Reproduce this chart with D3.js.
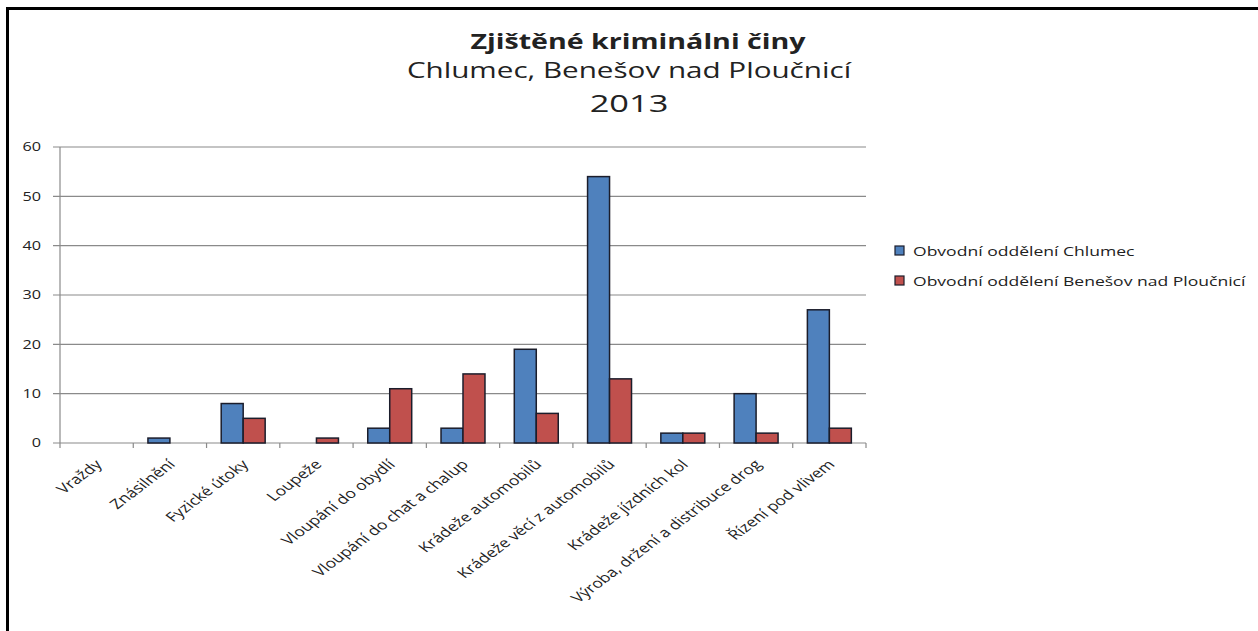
<!DOCTYPE html>
<html>
<head>
<meta charset="utf-8">
<script src="https://cdn.jsdelivr.net/npm/d3@7"></script>
<style>
  body { margin: 0; background: #fff; }
  text { font-family: "Open Sans", sans-serif; fill: #222; }
</style>
</head>
<body>
<svg id="chart" width="1258" height="631"></svg>
<script>
// data
var categories = ["Vraždy", "Znásilnění", "Fyzické útoky", "Loupeže", "Vloupání do obydlí",
  "Vloupání do chat a chalup", "Krádeže automobilů", "Krádeže věcí z automobilů",
  "Krádeže jízdních kol", "Výroba, držení a distribuce drog", "Řízení pod vlivem"];
var chlumec = [0, 1, 8, 0, 3, 3, 19, 54, 2, 10, 27];
var benesov = [0, 0, 5, 1, 11, 14, 6, 13, 2, 2, 3];
var seriesNames = ["Obvodní oddělení Chlumec", "Obvodní oddělení Benešov nad Ploučnicí"];
var seriesColors = ["#4f81bd", "#c0504d"];
var yTicks = [0, 10, 20, 30, 40, 50, 60];

var sx = 1.3; // text in the source is stretched sideways

var svg = d3.select("#chart");

// frame
svg.append("rect")
  .attr("x", 7.5)
  .attr("y", 8.5)
  .attr("width", 1300)
  .attr("height", 700)
  .attr("fill", "none")
  .attr("stroke", "#000")
  .attr("stroke-width", 3);

var x = d3.scaleBand().domain(categories).range([60, 866]);
var xs = d3.scaleBand().domain([0, 1]).range([0, x.bandwidth()]).paddingOuter(0.667);
var y = d3.scaleLinear().domain([0, 60]).range([443, 147]);

// gridlines
svg.append("g").selectAll("line")
  .data(yTicks)
  .join("line")
  .attr("x1", 53)
  .attr("x2", 866)
  .attr("y1", d => y(d))
  .attr("y2", d => y(d))
  .attr("stroke", "#8a8a8a")
  .attr("stroke-width", 1.2);

// y axis line
svg.append("line")
  .attr("x1", 60).attr("x2", 60)
  .attr("y1", y(60)).attr("y2", y(0))
  .attr("stroke", "#8a8a8a")
  .attr("stroke-width", 1.2);

// y labels
svg.append("g").selectAll("text")
  .data(yTicks)
  .join("text")
  .attr("transform", d => "translate(41," + y(d) + ") scale(" + sx + ",1)")
  .attr("text-anchor", "end")
  .attr("dy", "0.35em")
  .attr("font-size", 12.5)
  .text(d => d);

// x ticks between categories
var xTickPos = categories.map(c => x(c)).concat([x.range()[1]]);
svg.append("g").selectAll("line")
  .data(xTickPos)
  .join("line")
  .attr("x1", d => d).attr("x2", d => d)
  .attr("y1", y(0)).attr("y2", y(0) + 5)
  .attr("stroke", "#8a8a8a")
  .attr("stroke-width", 1.2);

// bars
[chlumec, benesov].forEach(function (vals, s) {
  var rows = categories.map((c, i) => ({ cat: c, value: vals[i] })).filter(d => d.value > 0);
  svg.append("g").selectAll("rect")
    .data(rows)
    .join("rect")
    .attr("x", d => x(d.cat) + xs(s))
    .attr("y", d => y(d.value))
    .attr("width", xs.bandwidth())
    .attr("height", d => y(0) - y(d.value))
    .attr("fill", seriesColors[s])
    .attr("stroke", "#1b1d2b")
    .attr("stroke-width", 1.5);
});

// x labels (rotated, then stretched sideways like the source)
svg.append("g").selectAll("text")
  .data(categories)
  .join("text")
  .attr("transform", d => "translate(" + (x(d) + x.bandwidth() / 2 + 2) + "," + (y(0) + 19) + ") scale(1.33,1) rotate(-45)")
  .attr("text-anchor", "end")
  .attr("dy", "0.35em")
  .attr("font-size", 13.2)
  .text(d => d);

// titles
svg.append("text")
  .attr("transform", "translate(638,49) scale(" + sx + ",1)")
  .attr("text-anchor", "middle")
  .attr("font-size", 22)
  .attr("font-weight", "bold")
  .attr("fill", "#000")
  .text("Zjištěné kriminálni činy");

svg.append("text")
  .attr("transform", "translate(629,78) scale(" + (sx * 1.06) + ",1)")
  .attr("text-anchor", "middle")
  .attr("font-size", 21.5)
  .text("Chlumec, Benešov nad Ploučnicí");

svg.append("text")
  .attr("transform", "translate(629,112) scale(" + (sx * 1.15) + ",1)")
  .attr("text-anchor", "middle")
  .attr("font-size", 23)
  .text("2013");

// legend
var legend = svg.append("g").selectAll("g")
  .data(seriesNames)
  .join("g")
  .attr("transform", (d, i) => "translate(895," + (246 + i * 30) + ")");

legend.append("rect")
  .attr("width", 9)
  .attr("height", 9)
  .attr("fill", (d, i) => seriesColors[i])
  .attr("stroke", "#1b1d2b")
  .attr("stroke-width", 1.2);

legend.append("text")
  .attr("transform", "translate(18,5) scale(" + sx + ",1)")
  .attr("dy", "0.35em")
  .attr("font-size", 13.5)
  .text(d => d);
</script>
</body>
</html>
